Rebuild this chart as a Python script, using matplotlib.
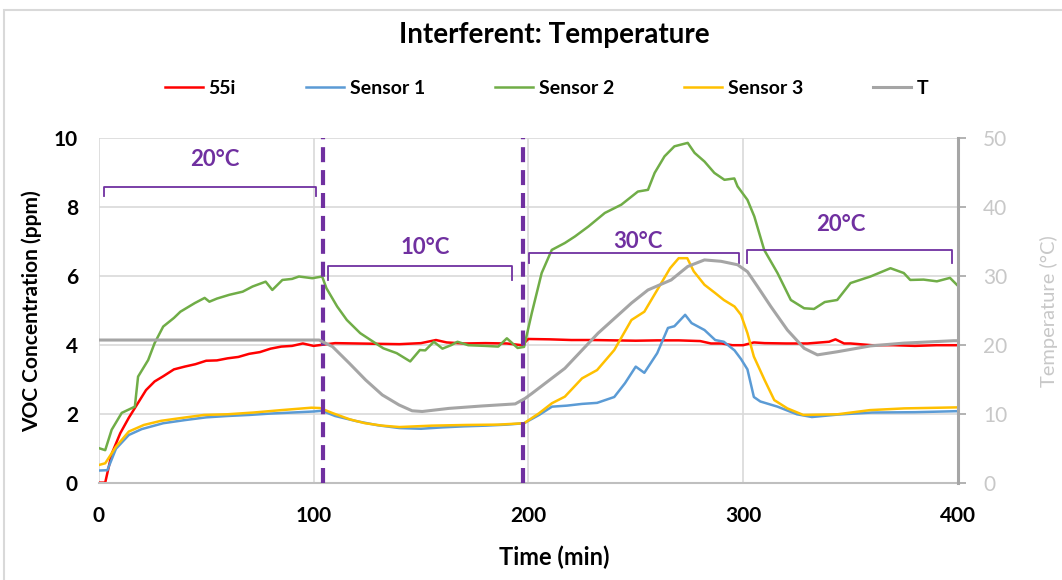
import matplotlib
matplotlib.use("Agg")
import matplotlib.pyplot as plt
from matplotlib.patches import Rectangle

plt.rcParams['font.family'] = ['Lato', 'DejaVu Sans']

# 55i reference instrument (ppm)
t_55i = [0, 3, 6, 10, 14, 18, 22, 26, 30, 35, 40, 45, 50, 55, 60, 65, 70, 75, 80, 85, 90, 95,
         100, 105, 110, 120, 130, 140, 150, 157, 162, 170, 180, 190, 197, 200, 210, 220, 230,
         240, 250, 260, 270, 280, 285, 290, 295, 300, 305, 310, 320, 330, 340, 343, 347, 350,
         360, 370, 380, 390, 400]
c_55i = [0.02, 0.02, 0.85, 1.45, 1.9, 2.3, 2.7, 2.95, 3.1, 3.3, 3.38, 3.45, 3.55, 3.56, 3.62,
         3.66, 3.75, 3.8, 3.9, 3.96, 3.98, 4.05, 3.98, 4.02, 4.06, 4.05, 4.04, 4.03, 4.06, 4.15,
         4.08, 4.05, 4.06, 4.05, 4.0, 4.18, 4.17, 4.15, 4.15, 4.14, 4.13, 4.14, 4.14, 4.12, 4.05,
         4.05, 4.0, 4.0, 4.08, 4.06, 4.05, 4.05, 4.1, 4.17, 4.05, 4.05, 4.0, 4.0, 3.98, 4.0, 4.0]

# Sensor 1
t_s1 = [0, 4, 8, 14, 20, 30, 40, 50, 60, 70, 80, 90, 100, 104, 110, 120, 130, 140, 150, 160,
        170, 180, 190, 198, 205, 211, 218, 225, 232, 240, 245, 250, 254, 260, 265, 268, 273,
        276, 282, 287, 291, 296, 299, 302, 305, 308, 316, 325, 332, 344, 360, 380, 400]
c_s1 = [0.37, 0.38, 1.0, 1.4, 1.57, 1.74, 1.83, 1.91, 1.95, 1.98, 2.02, 2.05, 2.08, 2.1, 1.95,
        1.8, 1.68, 1.6, 1.58, 1.62, 1.65, 1.67, 1.7, 1.74, 1.98, 2.22, 2.25, 2.3, 2.33, 2.5,
        2.9, 3.38, 3.2, 3.77, 4.5, 4.55, 4.88, 4.64, 4.44, 4.15, 4.1, 3.85, 3.6, 3.3, 2.5, 2.37,
        2.22, 2.0, 1.92, 1.99, 2.05, 2.06, 2.09]

# Sensor 2
t_s2 = [0, 3, 6, 10.7, 16.8, 18.3, 23, 26, 30, 35, 38, 44.7, 49.3, 51.5, 55, 60.8, 67, 71.6,
        77.7, 80.8, 85.5, 90, 93.2, 99.4, 104, 106, 111, 115.5, 121.7, 127.8, 132.5, 138.7,
        145, 149.5, 152, 156, 160, 164, 167, 172, 180, 186, 190, 195, 198, 201.6, 206.2, 210.9,
        217, 221.7, 228, 235.6, 243.3, 251, 255.7, 258.8, 263.4, 268, 274.2, 277.4, 282, 286.6,
        291.3, 295.9, 297.4, 302, 305.2, 309.8, 316, 322.2, 328.4, 333, 338, 343.8, 350, 359.3,
        368.6, 374.8, 377.8, 384, 390.2, 396.3, 399.5]
c_s2 = [1.02, 0.96, 1.55, 2.04, 2.22, 3.09, 3.57, 4.06, 4.54, 4.79, 4.97, 5.22, 5.37, 5.26,
        5.35, 5.46, 5.55, 5.7, 5.84, 5.6, 5.89, 5.92, 5.99, 5.94, 5.99, 5.65, 5.12, 4.73, 4.35,
        4.1, 3.91, 3.77, 3.53, 3.86, 3.85, 4.1, 3.9, 4.0, 4.1, 4.0, 3.98, 3.96, 4.2, 3.92, 3.95,
        4.93, 6.09, 6.76, 6.96, 7.15, 7.44, 7.83, 8.07, 8.45, 8.5, 8.99, 9.47, 9.76, 9.86, 9.57,
        9.32, 8.99, 8.79, 8.83, 8.6, 8.21, 7.73, 6.76, 6.09, 5.31, 5.07, 5.05, 5.25, 5.31, 5.8,
        5.99, 6.23, 6.09, 5.89, 5.9, 5.85, 5.95, 5.75]

# Sensor 3
t_s3 = [0, 3, 8, 14, 21, 29, 37, 49, 60, 72, 85, 99, 103, 109, 117, 124, 132, 140, 155, 171,
        186, 198, 205, 211, 217, 225, 232, 240, 248, 254, 260, 266, 270, 274, 277, 282, 287,
        291, 296, 299, 302, 305, 310, 314.5, 320.6, 328, 344, 359, 375, 400]
c_s3 = [0.53, 0.58, 1.06, 1.5, 1.69, 1.81, 1.88, 1.98, 2.0, 2.05, 2.12, 2.19, 2.18, 2.03, 1.85,
        1.74, 1.67, 1.63, 1.67, 1.69, 1.7, 1.74, 2.03, 2.32, 2.51, 3.04, 3.28, 3.86, 4.73, 4.97,
        5.6, 6.23, 6.52, 6.52, 6.14, 5.75, 5.51, 5.31, 5.12, 4.88, 4.35, 3.67, 2.99, 2.41, 2.17,
        1.98, 2.0, 2.12, 2.17, 2.2]

# chamber temperature (°C, right axis)
t_T = [0, 102.6, 108.8, 116.6, 124.3, 132, 139.8, 145.9, 150.6, 163, 178.4, 193.9, 198.5,
       201.6, 217, 232.5, 248, 255.7, 266.5, 274.2, 282, 289.7, 297.4, 302, 306.7, 312.9,
       320.6, 328.4, 334.6, 343.8, 359.3, 374.8, 398, 400]
temp_T = [20.75, 20.75, 19.8, 17.4, 14.95, 12.8, 11.35, 10.5, 10.4, 10.85, 11.2, 11.5, 12.3,
          13.0, 16.65, 21.75, 26.1, 28.0, 29.45, 31.4, 32.35, 32.15, 31.65, 30.65, 28.5, 25.6,
          22.2, 19.55, 18.6, 19.05, 19.9, 20.3, 20.65, 20.65]

# temperature step markers and phase brackets
step_times = [104.4, 197.5]
phase_labels = ['20°C', '10°C', '30°C', '20°C']
phase_start = [2.5, 106.8, 200.5, 302]
phase_end = [101.1, 192.3, 298.2, 397.2]
phase_top = [8.58, 6.30, 6.67, 6.76]
phase_foot = [8.31, 5.89, 6.38, 6.38]
label_x = [54, 152, 251, 345.7]
label_y = [9.37, 6.84, 6.99, 7.49]

purple = '#7030A0'
grid_c = '#D9D9D9'
light = '#C8C8C8'

fig = plt.figure(figsize=(10.62, 5.8), dpi=100)
ax = fig.add_axes([0.093, 0.1667, 0.809, 0.5953])
ax2 = ax.twinx()

ax.plot(t_55i, c_55i, color='#FF0000', lw=1.8, label='55i')
ax.plot(t_s1, c_s1, color='#5B9BD5', lw=1.8, label='Sensor 1')
ax.plot(t_s2, c_s2, color='#70AD47', lw=1.8, label='Sensor 2')
ax.plot(t_s3, c_s3, color='#FFC000', lw=1.8, label='Sensor 3')
ax2.plot(t_T, temp_T, color='#A5A5A5', lw=2.2, label='T')

for xs in step_times:
    ax.axvline(xs, color=purple, lw=3, dashes=(3.6, 1.9), zorder=5)

for i in range(len(phase_labels)):
    ax.plot([phase_start[i], phase_start[i], phase_end[i], phase_end[i]],
            [phase_foot[i], phase_top[i], phase_top[i], phase_foot[i]],
            color=purple, lw=1.3, zorder=5)
    ax.text(label_x[i], label_y[i], phase_labels[i], color=purple, fontsize=16,
            fontweight='bold', ha='center', va='center', zorder=6)

ax.set_xlim(0, 400)
ax.set_ylim(0, 10)
ax2.set_ylim(0, 50)
ax.set_xticks([0, 100, 200, 300, 400])
ax.set_yticks([0, 2, 4, 6, 8, 10])
ax2.set_yticks([0, 10, 20, 30, 40, 50])

ax.grid(True, color=grid_c, lw=1.2)
ax.set_axisbelow(True)
for s in ['top', 'left']:
    ax.spines[s].set_visible(False)
    ax2.spines[s].set_visible(False)
ax.spines['right'].set_visible(False)
ax.spines['bottom'].set_color('#BFBFBF')
ax.spines['bottom'].set_linewidth(1.5)
ax2.spines['bottom'].set_visible(False)
ax2.spines['right'].set_color('#A6A6A6')
ax2.spines['right'].set_linewidth(2.2)

ax.tick_params(axis='x', length=0, labelsize=15, pad=16)
ax.tick_params(axis='y', length=0, labelsize=15, pad=15)
ax2.tick_params(axis='y', length=6, width=1.2, color='#A6A6A6', labelcolor=light,
                labelsize=15, pad=12)
for lab in ax.get_xticklabels() + ax.get_yticklabels():
    lab.set_fontweight('bold')

ax.set_xlabel('Time (min)', fontsize=17, fontweight='bold')
ax.set_ylabel('VOC Concentration (ppm)', fontsize=15, fontweight='bold')
ax2.set_ylabel('Temperature (°C)', fontsize=14.5, color=light)
ax.xaxis.set_label_coords(0.53, -0.1816)
ax.yaxis.set_label_coords(-0.066, 0.5)
ax2.yaxis.set_label_coords(1.0955, 0.5)

fig.text(0.522, 1 - 35 / 580, 'Interferent: Temperature', ha='center', va='center',
         fontsize=20, fontweight='bold')

h1, l1 = ax.get_legend_handles_labels()
h2, l2 = ax2.get_legend_handles_labels()
fig.legend(h1 + h2, l1 + l2, loc='center', bbox_to_anchor=(0.5146, 0.848), ncol=5,
           frameon=False, handlelength=1.95, handletextpad=0.3, columnspacing=3.6,
           prop={'weight': 'bold', 'size': 14})

fig.patches.append(Rectangle((4 / 1062, -0.05), 1.1, 1.05 - 10 / 580, transform=fig.transFigure,
                             fill=False, edgecolor='#D9D9D9', lw=1.5))

fig.savefig('out.png', dpi=100)
